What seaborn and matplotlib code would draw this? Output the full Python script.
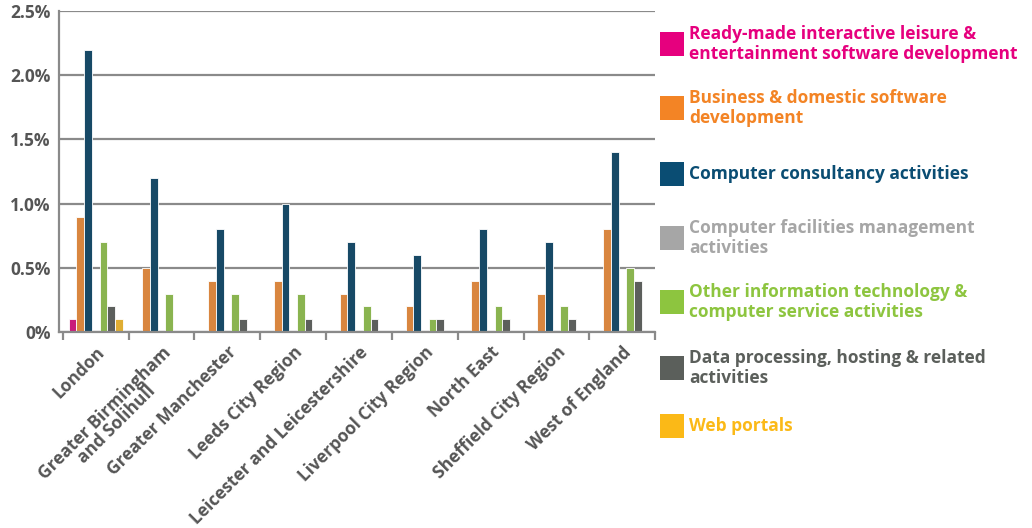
import matplotlib
matplotlib.use("Agg")
import matplotlib.pyplot as plt
from matplotlib.patches import Rectangle
from matplotlib.ticker import FixedLocator, FuncFormatter
import seaborn as sns
import pandas as pd

regions = ["London", "Greater Birmingham\nand Solihull", "Greater Manchester",
           "Leeds City Region", "Leicester and Leicestershire",
           "Liverpool City Region", "North East", "Sheffield City Region",
           "West of England"]

sectors = ["Ready-made interactive leisure &\nentertainment software development",
           "Business & domestic software\ndevelopment",
           "Computer consultancy activities",
           "Computer facilities management\nactivities",
           "Other information technology &\ncomputer service activities",
           "Data processing, hosting & related\nactivities",
           "Web portals"]

colors = ["#E6007E", "#F38425", "#0A4D73", "#A6A6A6", "#8DC53F", "#5B5F5B", "#FBB917"]

# share of employment (%) per sector, one list per sector across regions
ready_made = [0.1, 0, 0, 0, 0, 0, 0, 0, 0]
business_sw = [0.9, 0.5, 0.4, 0.4, 0.3, 0.2, 0.4, 0.3, 0.8]
consultancy = [2.2, 1.2, 0.8, 1.0, 0.7, 0.6, 0.8, 0.7, 1.4]
facilities = [0, 0, 0, 0, 0, 0, 0, 0, 0]
other_it = [0.7, 0.3, 0.3, 0.3, 0.2, 0.1, 0.2, 0.2, 0.5]
data_proc = [0.2, 0, 0.1, 0.1, 0.1, 0.1, 0.1, 0.1, 0.4]
web_portals = [0.1, 0, 0, 0, 0, 0, 0, 0, 0]

series = [ready_made, business_sw, consultancy, facilities, other_it, data_proc, web_portals]

rows = []
for sec, vals in zip(sectors, series):
    for reg, v in zip(regions, vals):
        rows.append({"region": reg, "sector": sec, "value": v})
df = pd.DataFrame(rows)

sns.set_theme(style="white")
plt.rcParams["font.family"] = ["Open Sans", "DejaVu Sans"]

fig = plt.figure(figsize=(10.32, 5.28), dpi=100)
ax = fig.add_axes([0.057, 0.371, 0.578, 0.608])

sns.barplot(data=df, x="region", y="value", hue="sector", order=regions,
            hue_order=sectors, palette=colors, width=0.82, ax=ax,
            edgecolor="white", linewidth=0.6, legend=False)

ax.set_ylim(0, 2.5)
ax.set_xlim(-0.56, 8.5)
ax.set_yticks([0, 0.5, 1.0, 1.5, 2.0, 2.5])
ax.yaxis.set_major_formatter(FuncFormatter(lambda v, p: "0%" if v == 0 else f"{v:.1f}%"))
ax.yaxis.grid(True, color="#8a8a8a", linewidth=1.6)
ax.set_axisbelow(True)
ax.set_xlabel("")
ax.set_ylabel("")

for s in ["top", "right"]:
    ax.spines[s].set_visible(False)
for s in ["left", "bottom"]:
    ax.spines[s].set_color("#8a8a8a")
    ax.spines[s].set_linewidth(1.6)

ax.tick_params(axis="y", length=0, labelsize=12.5, labelcolor="#555555", pad=6)
ax.tick_params(axis="x", which="major", length=0, labelsize=12.5, labelcolor="#555555", pad=8)
ax.xaxis.set_minor_locator(FixedLocator([i - 0.5 for i in range(len(regions) + 1)]))
ax.tick_params(axis="x", which="minor", length=6, width=1.6, color="#8a8a8a", bottom=True)

for lab in ax.get_yticklabels():
    lab.set_fontweight("bold")
ax.set_xticks(range(len(regions)))
ax.set_xticklabels(regions, rotation=45, ha="right", rotation_mode="anchor",
                   fontweight="bold", linespacing=0.9, multialignment="center")

# legend on the right with coloured labels
leg_centers = [44, 108, 174, 238, 302, 368, 426]
for i, (sec, col) in enumerate(zip(sectors, colors)):
    yc = leg_centers[i]
    fig.patches.append(Rectangle((660 / 1032, 1 - (yc + 12) / 528), 24 / 1032, 24 / 528,
                                 transform=fig.transFigure, facecolor=col,
                                 edgecolor="none"))
    fig.text(689 / 1032, 1 - yc / 528, sec, color=col, fontsize=12.5,
             fontweight="bold", va="center", ha="left", linespacing=1.12)

fig.savefig("out.png", dpi=100)
